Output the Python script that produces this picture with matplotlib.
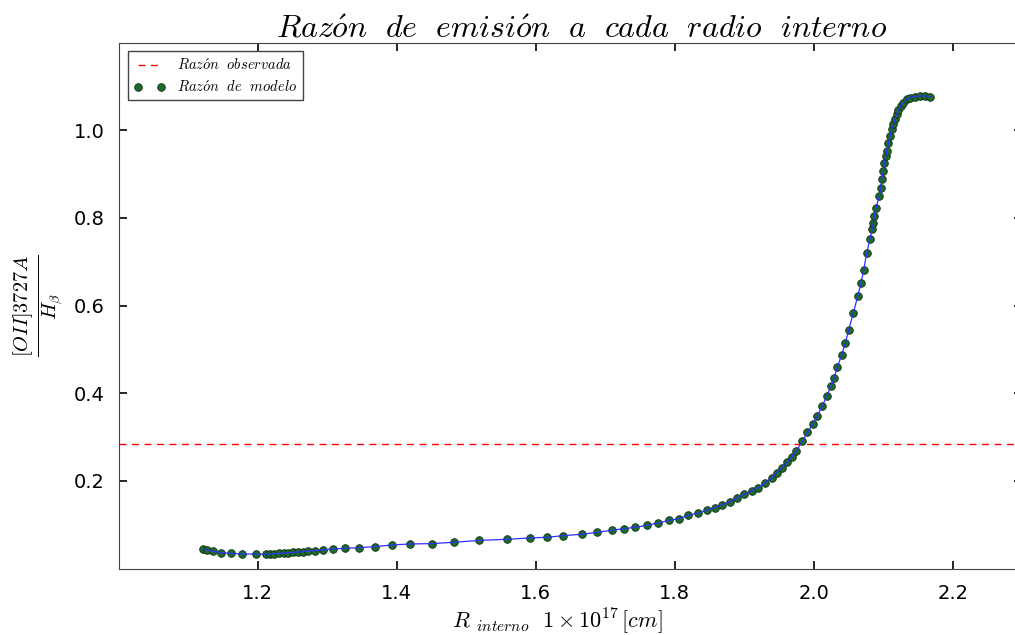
import numpy as np
import matplotlib
matplotlib.use("Agg")
import matplotlib.pyplot as plt

plt.rcParams['mathtext.fontset'] = 'cm'

# radio interno (en unidades de 1e17 cm) y razon [OII]3727/Hbeta del modelo
r_int = [1.1218, 1.1266, 1.1360, 1.1467, 1.1610, 1.1780, 1.1976, 1.2120,
         1.2177, 1.2239, 1.2306, 1.2378, 1.2440, 1.2512, 1.2584, 1.2647,
         1.2728, 1.2825, 1.2935, 1.3079, 1.3256, 1.3457, 1.3688, 1.3928,
         1.4191, 1.4503, 1.4825, 1.5180, 1.5592, 1.5918, 1.6167, 1.6397,
         1.6662, 1.6887, 1.7093, 1.7270, 1.7433, 1.7606, 1.7764, 1.7922,
         1.8062, 1.8196, 1.8335, 1.8460, 1.8580, 1.8685, 1.8796, 1.8901,
         1.9002, 1.9108, 1.9203, 1.9299, 1.9399, 1.9465, 1.9540, 1.9610,
         1.9683, 1.9752, 1.9836, 1.9908, 1.9986, 2.0052, 2.0119, 2.0187,
         2.0245, 2.0292, 2.0340, 2.0403, 2.0455, 2.0504, 2.0570, 2.0633,
         2.0681, 2.0719, 2.0763, 2.0810, 2.0840, 2.0858, 2.0872, 2.0896,
         2.0944, 2.0964, 2.0978, 2.1002, 2.1016, 2.1036, 2.1050, 2.1074,
         2.1098, 2.1122, 2.1146, 2.1170, 2.1194, 2.1218, 2.1256, 2.1290,
         2.1338, 2.1386, 2.1458, 2.1530, 2.1602, 2.1673]
razon = [0.0439, 0.0423, 0.0393, 0.0362, 0.0347, 0.0331, 0.0331, 0.0324,
         0.0331, 0.0339, 0.0347, 0.0354, 0.0362, 0.0370, 0.0377, 0.0385,
         0.0400, 0.0408, 0.0423, 0.0446, 0.0461, 0.0476, 0.0499, 0.0537,
         0.0560, 0.0568, 0.0599, 0.0640, 0.0667, 0.0697, 0.0713, 0.0750,
         0.0781, 0.0827, 0.0873, 0.0910, 0.0941, 0.0987, 0.1040, 0.1101,
         0.1139, 0.1216, 0.1262, 0.1330, 0.1390, 0.1459, 0.1528, 0.1611,
         0.1696, 0.1771, 0.1847, 0.1960, 0.2070, 0.2180, 0.2300, 0.2420,
         0.2545, 0.2690, 0.2900, 0.3104, 0.3288, 0.3486, 0.3699, 0.3928,
         0.4156, 0.4339, 0.4598, 0.4873, 0.5147, 0.5451, 0.5832, 0.6213,
         0.6518, 0.6807, 0.7204, 0.7524, 0.7740, 0.7890, 0.8041, 0.8233,
         0.8499, 0.8690, 0.8880, 0.9070, 0.9260, 0.9413, 0.9527, 0.9703,
         0.9870, 1.0023, 1.0137, 1.0267, 1.0366, 1.0464, 1.0556, 1.0632,
         1.0708, 1.0747, 1.0770, 1.0784, 1.0784, 1.0770]

razon_obs = 0.285

fig = plt.figure(figsize=(10.15, 6.35), dpi=100)
ax = fig.add_axes([0.117, 0.1047, 0.8901, 0.8281])

ax.axhline(razon_obs, color='r', ls='--', lw=1, dashes=(5, 4),
           label=r'$Raz\acute{o}n\ \ observada$')
ax.plot(r_int, razon, 'o', mfc='#1d6b25', mec='#10301a', mew=0.6, ms=5.5,
        label=r'$Raz\acute{o}n\ \ de\ \ modelo$')
ax.plot(r_int, razon, '-', color='#3030ff', lw=0.9)

ax.set_xlim(1.0, 2.3)
ax.set_ylim(0.0, 1.2)
ax.set_xticks([1.2, 1.4, 1.6, 1.8, 2.0, 2.2])
ax.set_yticks([0.2, 0.4, 0.6, 0.8, 1.0])
ax.tick_params(direction='in', length=6, width=1.2, top=True, right=True,
               labelsize=14, pad=10)
ax.tick_params(axis='x', pad=11)
for s in ax.spines.values():
    s.set_color('#444444')

ax.set_title(r'$Raz\acute{o}n\ \ de\ \ emisi\acute{o}n\ \ a\ \ cada\ \ radio\ \ interno$',
             fontsize=23, pad=4, x=0.512)
ax.set_xlabel(r'$R\ _{interno}\ \ 1\times 10^{17}\,[cm]$', fontsize=16)
ax.xaxis.set_label_coords(0.485, -0.072)
ax.set_ylabel(r'$\frac{[OII]3727A}{H_\beta}$', fontsize=21)
ax.yaxis.set_label_coords(-0.058, 0.5)

leg = ax.legend(loc='upper left', numpoints=2, fontsize=10.5, fancybox=False,
                edgecolor='#444444', framealpha=1, borderaxespad=0.6,
                handlelength=2.2, labelspacing=0.4)
leg.get_frame().set_linewidth(1.0)

fig.savefig('out.png', dpi=100)
